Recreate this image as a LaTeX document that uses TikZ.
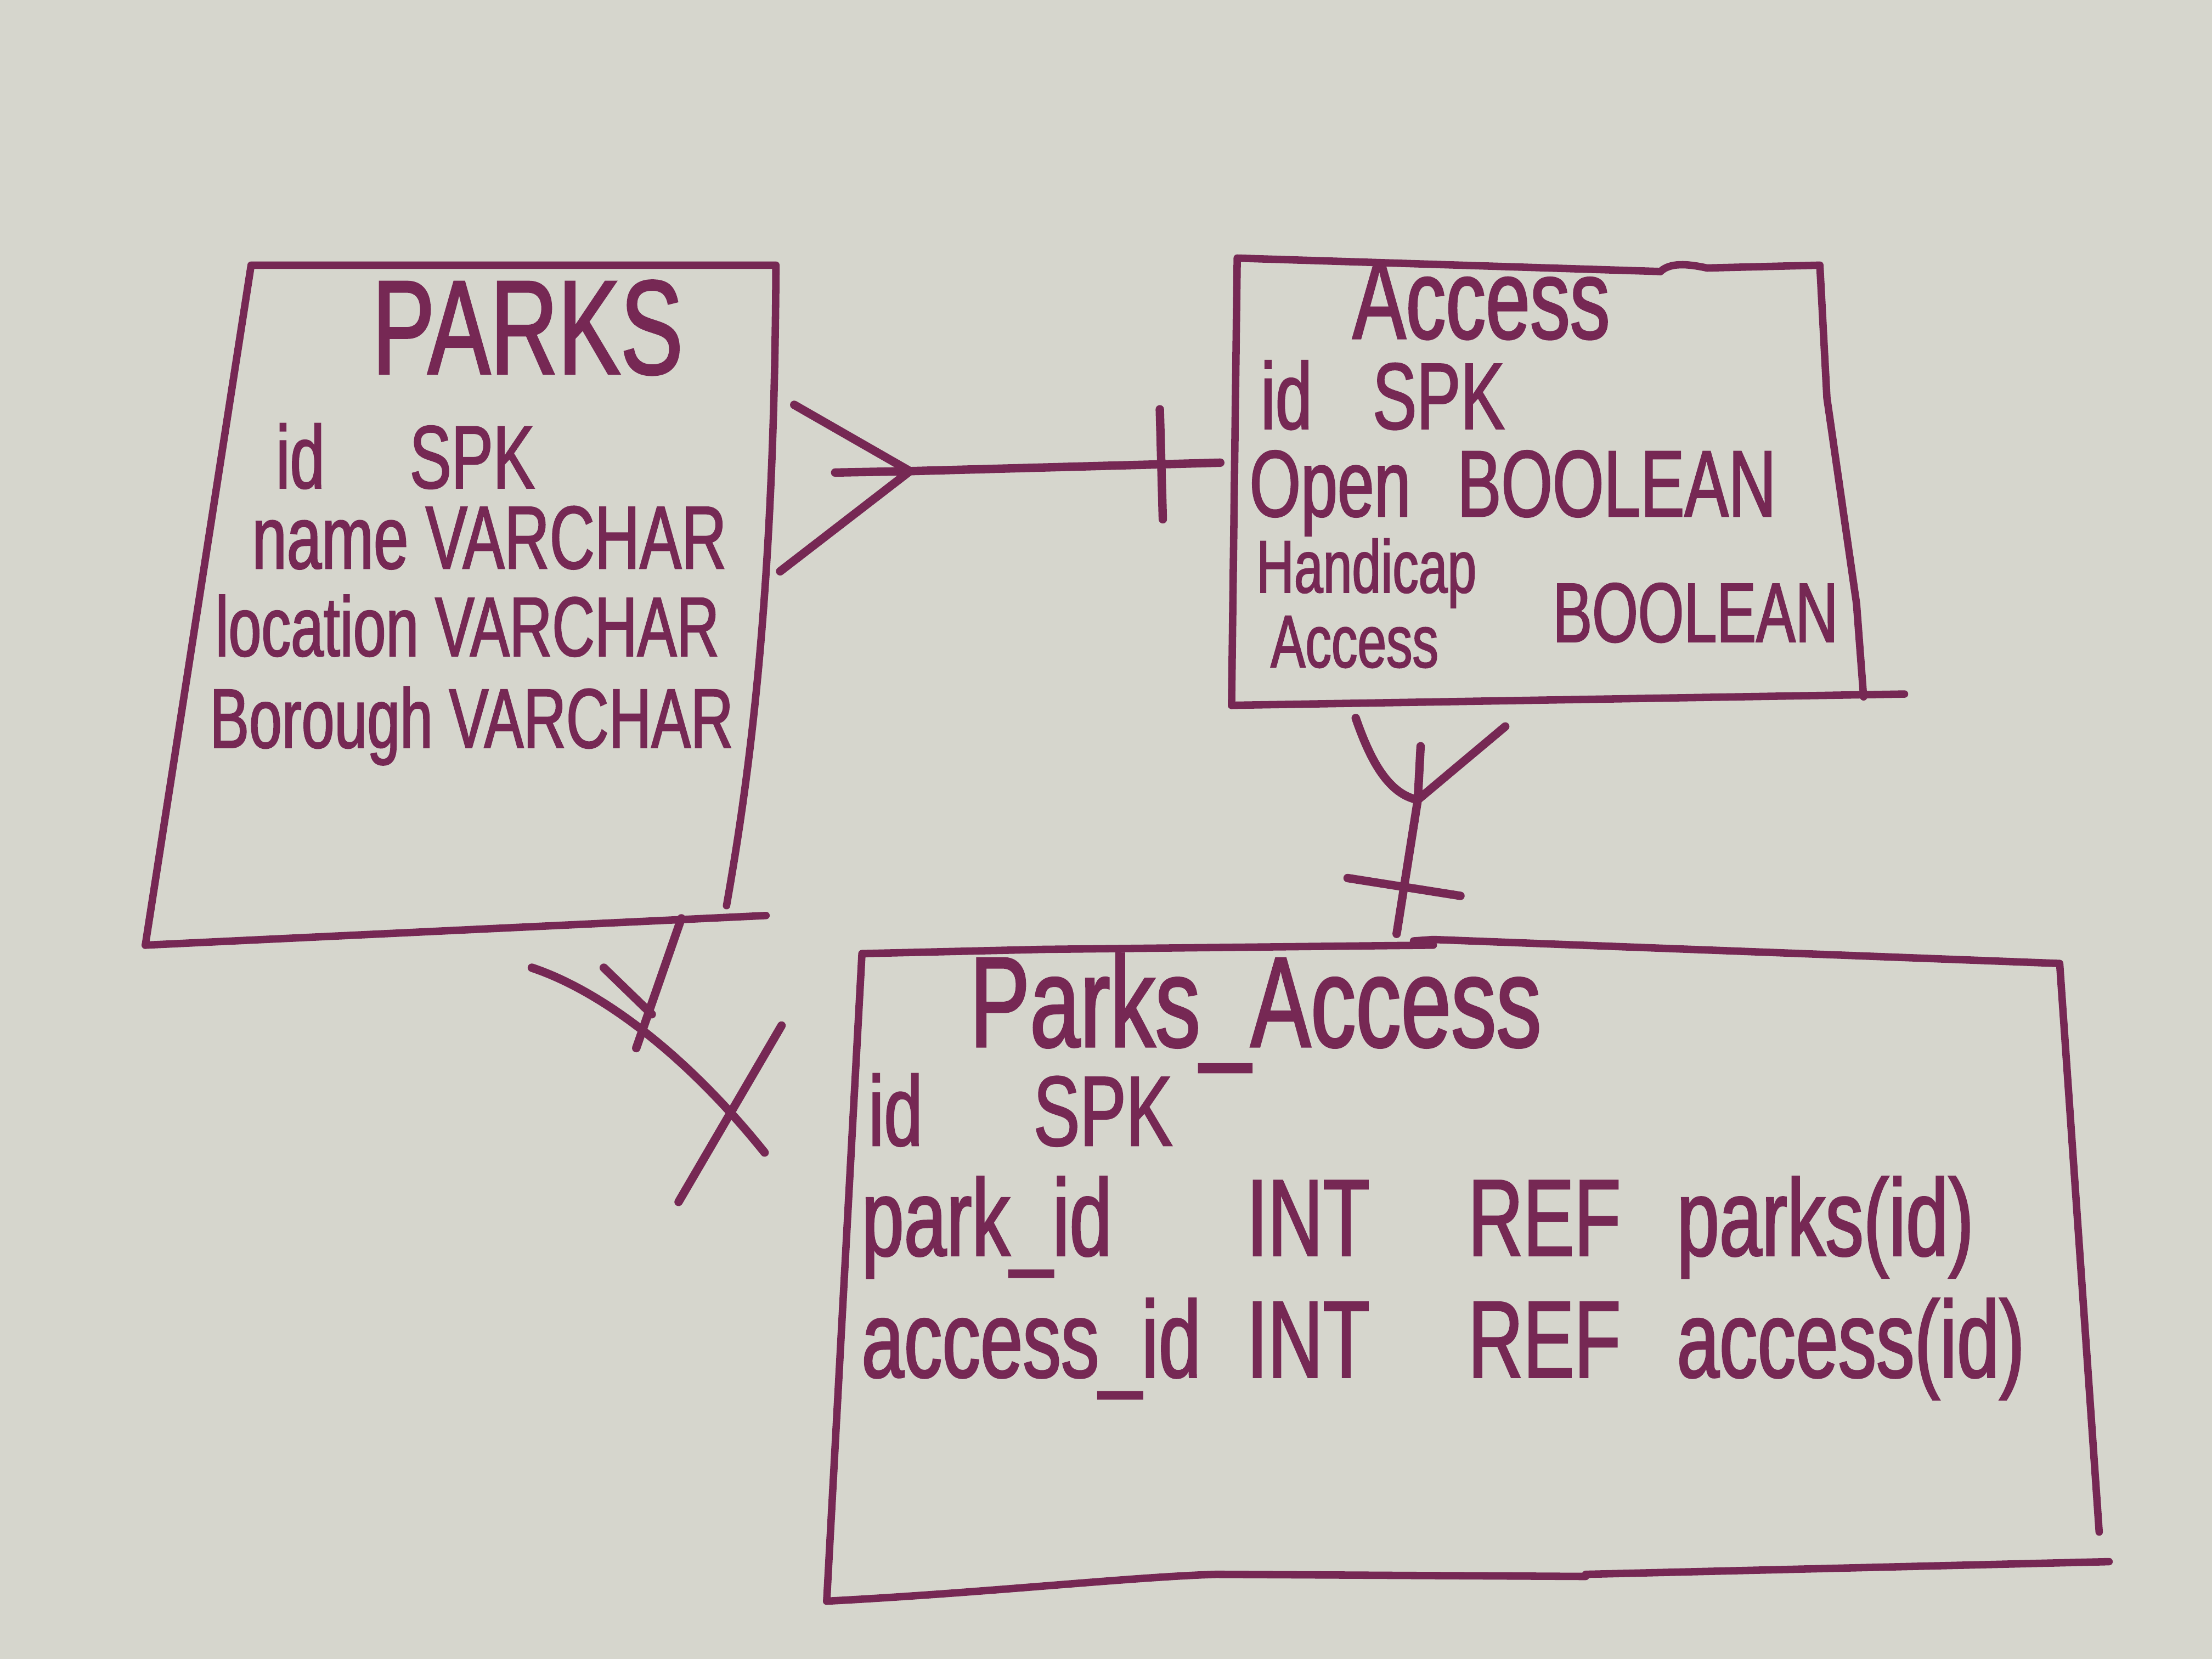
\documentclass[tikz,border=0pt]{standalone}
\usepackage{fontspec}
\newfontfamily\handfont{Liberation Sans}[FakeStretch=0.7, FakeBold=1.5]
\usetikzlibrary{positioning}
\definecolor{marker}{RGB}{118,40,84}
\definecolor{board}{RGB}{214,214,205}
\newcommand{\hsz}[1]{\handfont\fontsize{#1}{#1}\selectfont}

\begin{document}
\begin{tikzpicture}[
  tblframe/.style={draw=marker, line width=1.5pt, line cap=round, line join=round},
  link/.style={draw=marker, line width=1.7pt, line cap=round, line join=round},
  onebar/.style={draw=marker, line width=1.7pt, sloped, inner sep=0pt, outer sep=0pt, minimum width=0pt},
  ttl/.style={text=marker, inner sep=0pt, anchor=base},
  fld/.style={text=marker, inner sep=0pt, anchor=base west}]
\fill[board] (0,0) rectangle (15.68,11.76);
\useasboundingbox (0,0) rectangle (15.68,11.76);

% table frames
\draw[tblframe] (1.03,5.06) -- (1.78,9.88) -- (5.50,9.88) .. controls (5.49,7.6) and (5.32,6.3) .. (5.15,5.34);
\draw[tblframe] (1.03,5.06) -- (5.43,5.27);
\draw[tblframe] (8.73,6.76) -- (8.77,9.93) -- (11.77,9.835);
\draw[tblframe] (11.77,9.835) .. controls (11.84,9.90) and (11.96,9.89) .. (12.10,9.86) -- (12.90,9.88) -- (12.95,8.94) -- (13.16,7.48) -- (13.21,6.82);
\draw[tblframe] (8.73,6.76) -- (13.50,6.84);
\draw[tblframe] (5.86,0.41) -- (6.11,5.00) -- (7.39,5.03) -- (10.16,5.06);
\draw[tblframe] (10.02,5.09) -- (10.16,5.10) -- (14.60,4.93) -- (14.88,0.90);
\draw[tblframe] (5.86,0.41) .. controls (7.0,0.47) and (8.0,0.58) .. (8.62,0.60) -- (11.24,0.585);
\draw[tblframe] (11.24,0.60) -- (14.95,0.69);

% PARKS
\node[ttl, font=\hsz{27}] (parks) at (3.74,9.11) {PARKS};
\node[fld, font=\hsz{18}] (parks-id) at (1.95,8.30) {id \hspace{4.8mm}SPK};
\node[fld, font=\hsz{18}] (parks-name) at (1.78,7.73) {name VARCHAR};
\node[fld, font=\hsz{17}] (parks-loc) at (1.52,7.11) {location VARCHAR};
\node[fld, font=\hsz{17}] (parks-boro) at (1.48,6.46) {Borough VARCHAR};

% Access
\node[ttl, font=\hsz{23}] (access) at (10.50,9.36) {Access};
\node[fld, font=\hsz{19}] (access-id) at (8.93,8.72) {id \hspace{3mm}SPK};
\node[fld, font=\hsz{19}] (access-open) at (8.85,8.10) {Open \hspace{2mm}BOOLEAN};
\node[fld, font=\hsz{15}] (access-hc1) at (8.90,7.56) {Handicap};
\node[fld, font=\hsz{15}] (access-hc2) at (9.00,7.03) {Access};
\node[fld, font=\hsz{17}] (access-hct) at (11.00,7.21) {BOOLEAN};

% Parks_Access
\node[ttl, font=\hsz{26}] (pa) at (8.90,4.34) {Parks\_Access};
\node[fld, font=\hsz{20}] (pa-id) at (6.15,3.64) {id \hspace{6.5mm}SPK};
\node[fld, font=\hsz{22}] (pa-fk) at (6.10,2.86) {\begin{tabular}[t]{@{}p{2.73cm}@{}p{1.57cm}@{}p{1.48cm}@{}l@{}}
  park\_id & INT & REF & parks(id)\\[2pt]
  access\_id & INT & REF & access(id)
\end{tabular}};

% parks -- access
\coordinate (j1) at (6.45,8.42);
\coordinate (ac-w) at (8.65,8.48);
\coordinate (pk-r1) at (5.63,8.89);
\coordinate (pk-r2) at (5.92,8.41);
\coordinate (pk-r3) at (5.53,7.71);
\draw[link] (j1) -- (ac-w) node[pos=0.81, onebar, minimum height=7.8mm] {};
\draw[link] (pk-r1) -- (j1) -- (pk-r3);
\draw[link] (pk-r2) -- (j1);

% access -- parks_access
\coordinate (j2) at (10.05,6.09);
\coordinate (pa-n) at (9.90,5.14);
\coordinate (ac-r1) at (9.61,6.67);
\coordinate (ac-r2) at (10.07,6.47);
\coordinate (ac-r3) at (10.67,6.61);
\draw[link] (j2) -- (pa-n) node[pos=0.65, onebar, minimum height=8.1mm] {};
\draw[link] (ac-r1) .. controls (9.72,6.35) and (9.85,6.13) .. (j2);
\draw[link] (ac-r2) -- (j2);
\draw[link] (ac-r3) -- (j2);

% parks -- parks_access
\coordinate (pk-s) at (4.83,5.25);
\coordinate (pk-t) at (4.51,4.33);
\coordinate (pl-a) at (3.77,4.90);
\coordinate (pl-b) at (5.42,3.59);
\coordinate (pl-c) at (4.28,4.90);
\coordinate (pl-d) at (4.62,4.57);
\coordinate (px-a) at (5.54,4.49);
\coordinate (px-b) at (4.81,3.24);
\draw[link] (pk-s) -- (pk-t);
\draw[link] (pl-a) .. controls (4.25,4.74) and (4.85,4.30) .. (pl-b);
\draw[link] (pl-c) -- (pl-d);
\draw[link] (px-a) -- (px-b);
\end{tikzpicture}
\end{document}
